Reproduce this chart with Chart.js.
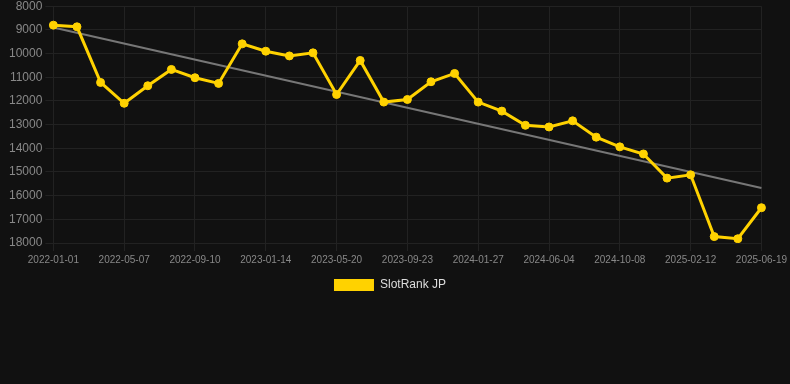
<!DOCTYPE html>
<html>
<head>
<meta charset="utf-8">
<script src="https://cdn.jsdelivr.net/npm/chart.js@4.4.0/dist/chart.umd.min.js"></script>
<style>
html,body{margin:0;padding:0;background:#111111;overflow:hidden;}
#wrap{width:790px;height:305px;position:relative;margin-top:-4px;}
</style>
</head>
<body>
<div id="wrap"><canvas id="c"></canvas></div>
<script>
const labels = [
  "2022-01-01","2022-02-12","2022-03-26","2022-05-07","2022-06-18","2022-07-30",
  "2022-09-10","2022-10-22","2022-12-03","2023-01-14","2023-02-25","2023-04-08",
  "2023-05-20","2023-07-01","2023-08-12","2023-09-23","2023-11-04","2023-12-16",
  "2024-01-27","2024-03-09","2024-04-20","2024-06-04","2024-07-16","2024-08-27",
  "2024-10-08","2024-11-19","2024-12-31","2025-02-12","2025-03-26","2025-05-07",
  "2025-06-19"
];
const rankValues = [
  8800, 8870, 11220, 12100, 11360, 10670,
  11020, 11260, 9590, 9900, 10100, 9970,
  11730, 10290, 12050, 11940, 11190, 10840,
  12050, 12430, 13030, 13100, 12840, 13530,
  13940, 14240, 15260, 15120, 17730, 17820,
  16510
];
const trendStart = 8900;
const trendEnd = 15680;
const trendValues = labels.map((_, i) => i === 0 ? trendStart : (i === labels.length - 1 ? trendEnd : null));
const yTicks = [8000, 9000, 10000, 11000, 12000, 13000, 14000, 15000, 16000, 17000, 18000];

const FONT = 'Liberation Sans, Arial, sans-serif';

new Chart(document.getElementById('c'), {
  type: 'line',
  data: {
    labels: labels,
    datasets: [
      {
        label: 'SlotRank JP',
        data: rankValues,
        borderColor: '#FFD200',
        backgroundColor: '#FFD200',
        borderWidth: 3,
        pointRadius: 4,
        pointBorderWidth: 1,
        pointHoverRadius: 4,
        pointBackgroundColor: '#FFD200',
        pointBorderColor: '#FFD200',
        tension: 0,
        order: 1
      },
      {
        label: 'trend',
        data: trendValues,
        borderColor: '#777777',
        borderWidth: 2,
        pointRadius: 0,
        spanGaps: true,
        tension: 0,
        order: 2
      }
    ]
  },
  options: {
    responsive: true,
    maintainAspectRatio: false,
    animation: false,
    layout: { padding: { left: 6, right: 16 } },
    plugins: {
      legend: {
        position: 'bottom',
        labels: {
          color: '#dddddd',
          font: { family: FONT, size: 12 },
          boxWidth: 40,
          boxHeight: 12,
          generateLabels: (chart) => Chart.defaults.plugins.legend.labels.generateLabels(chart)
            .filter(it => it.text !== 'trend')
            .map(it => Object.assign(it, { lineWidth: 0, strokeStyle: 'rgba(0,0,0,0)' }))
        }
      },
      tooltip: { enabled: false }
    },
    scales: {
      x: {
        grid: { color: (ctx) => (ctx.index % 3 === 0 ? '#222222' : 'rgba(0,0,0,0)') },
        border: { color: '#222222' },
        ticks: {
          color: '#888888',
          font: { family: FONT, size: 10 },
          maxRotation: 0,
          autoSkip: false,
          callback: function(v, i) { return i % 3 === 0 ? labels[i] : ''; }
        }
      },
      y: {
        reverse: true,
        min: 8000,
        max: 18000,
        grid: { color: '#222222' },
        border: { color: '#222222' },
        afterBuildTicks: (axis) => { axis.ticks = yTicks.map(v => ({ value: v })); },
        ticks: {
          color: '#888888',
          font: { family: FONT, size: 12 },
          callback: (v) => String(v)
        }
      }
    }
  }
});
</script>
</body>
</html>
